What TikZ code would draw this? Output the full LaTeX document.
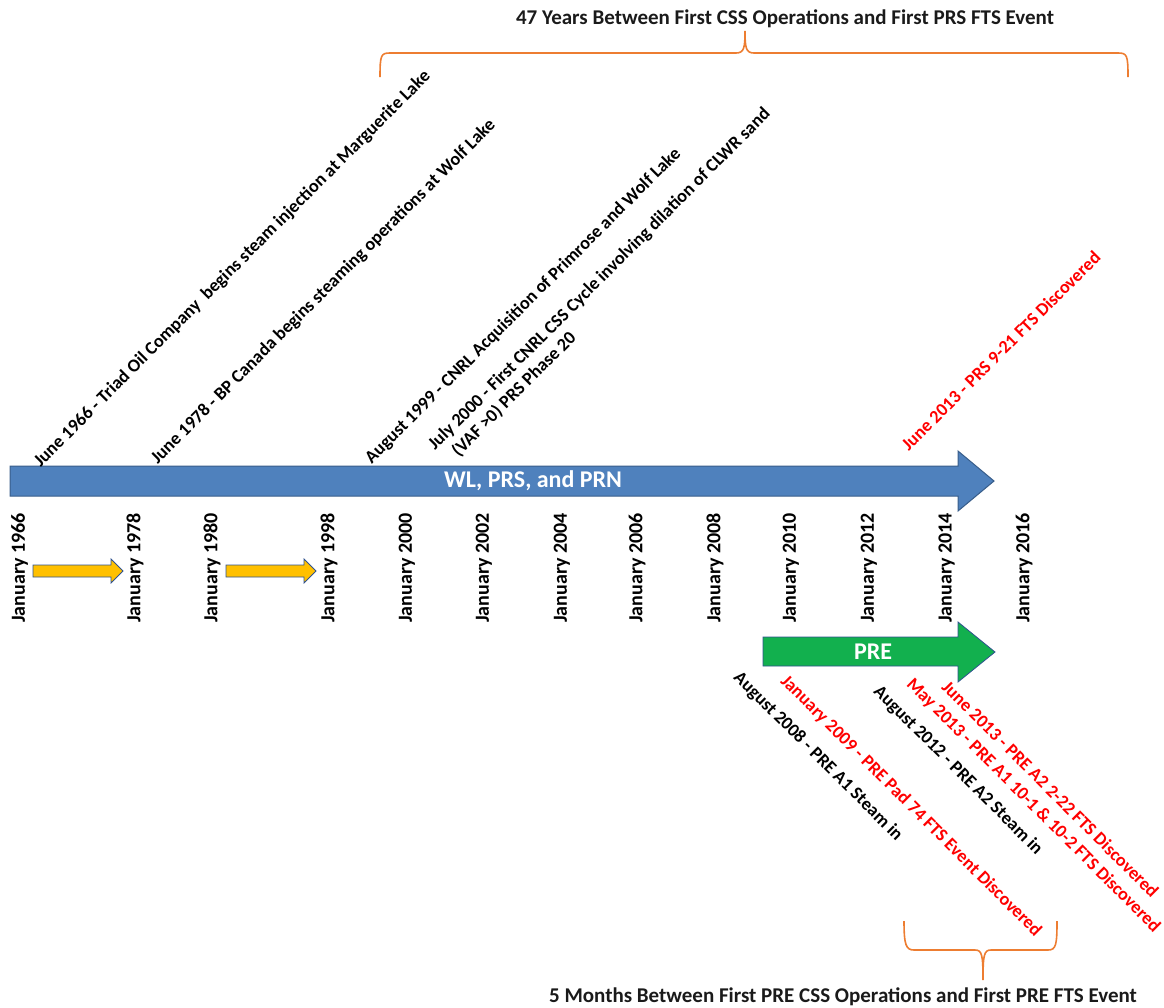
\documentclass[tikz,border=0pt]{standalone}
\usepackage{fontspec}
\setmainfont{Carlito}
\begin{document}
\begin{tikzpicture}[x=1pt,y=-1pt,
  yearlbl/.style={font=\bfseries\fontsize{20}{20}\selectfont, rotate=90, anchor=east, inner sep=0pt},
  uplbl/.style={font=\bfseries\fontsize{18.2}{21}\selectfont, rotate=45, anchor=south west, inner sep=0pt, align=left},
  dnlbl/.style={font=\bfseries\fontsize{18.2}{21}\selectfont, rotate=-45, anchor=north west, inner sep=0pt},
  titlelbl/.style={font=\bfseries\fontsize{21}{24}\selectfont, inner sep=0pt, text=titlegray},
  bracecol/.style={draw=braceorange, line width=1.6pt},
  ]
\definecolor{arrowblue}{HTML}{4F81BD}
\definecolor{arrowblueline}{HTML}{385D8A}
\definecolor{arrowgreen}{HTML}{12B04E}
\definecolor{arrowyellow}{HTML}{FFC000}
\definecolor{yellowline}{HTML}{2F528F}
\definecolor{braceorange}{HTML}{ED7D31}
\definecolor{evtred}{HTML}{FF0000}
\definecolor{titlegray}{HTML}{1A1A1A}
\useasboundingbox (0,0) rectangle (1164,1007);

% top title and brace
\node[titlelbl] (toptitle) at (785,19) {47 Years Between First CSS Operations and First PRS FTS Event};
\draw[bracecol] (380,77) .. controls (380,55) and (381,53) .. (390,53) -- (736,53) .. controls (744,53) and (745,48) .. (745,31)
  .. controls (745,48) and (746,53) .. (754,53) -- (1118,53) .. controls (1127,53) and (1128,55) .. (1128,77);

% blue arrow
\draw[fill=arrowblue, draw=arrowblueline, line width=1pt] (10,466) -- (958,466) -- (958,451) -- (994,481) -- (958,511) -- (958,496) -- (10,496) -- cycle;
\node[font=\bfseries\fontsize{24}{24}\selectfont, text=white] (wl) at (533,481) {WL, PRS, and PRN};

% green arrow
\draw[fill=arrowgreen, draw=yellowline, line width=0.8pt] (763,637) -- (958,637) -- (958,622) -- (995,652) -- (958,682) -- (958,666) -- (763,666) -- cycle;
\node[font=\bfseries\fontsize{24}{24}\selectfont, text=white] (pre) at (873,652) {PRE};

% yellow arrows
\draw[fill=arrowyellow, draw=yellowline, line width=0.8pt] (33,565) -- (111,565) -- (111,559) -- (123,571) -- (111,583) -- (111,577) -- (33,577) -- cycle;
\draw[fill=arrowyellow, draw=yellowline, line width=0.8pt] (226,565) -- (304,565) -- (304,559) -- (316,571) -- (304,583) -- (304,577) -- (226,577) -- cycle;

% year labels
\node[yearlbl] (y1966) at (19.5,513) {January 1966};
\node[yearlbl] (y1978) at (135,513) {January 1978};
\node[yearlbl] (y1980) at (212,513) {January 1980};
\node[yearlbl] (y1998) at (329,513) {January 1998};
\node[yearlbl] (y2000) at (407,513) {January 2000};
\node[yearlbl] (y2002) at (484,513) {January 2002};
\node[yearlbl] (y2004) at (562,513) {January 2004};
\node[yearlbl] (y2006) at (637,513) {January 2006};
\node[yearlbl] (y2008) at (715,513) {January 2008};
\node[yearlbl] (y2010) at (791,513) {January 2010};
\node[yearlbl] (y2012) at (869,513) {January 2012};
\node[yearlbl] (y2014) at (946.6,513) {January 2014};
\node[yearlbl] (y2016) at (1024,513) {January 2016};

% upper events
\node[uplbl] (e1966) at (43,470) {June 1966 - Triad Oil Company\ \ begins steam injection at Marguerite Lake};
\node[uplbl] (e1978) at (160,467) {June 1978 - BP Canada begins steaming operations at Wolf Lake};
\node[uplbl] (e1999) at (374,467) {August 1999 - CNRL Acquisition of Primrose and Wolf Lake};
\node[uplbl] (e2000) at (452,468) {July 2000 - First CNRL CSS Cycle involving dilation of CLWR sand\\\ \ \ (VAF >0) PRS Phase 20};
\node[uplbl, text=evtred] (e2013) at (909,452) {June 2013 - PRS 9-21 FTS Discovered};

% lower events
\node[dnlbl] (p2008) at (742,669) {August 2008 - PRE A1 Steam in};
\node[dnlbl, text=evtred] (p2009) at (789,673) {January 2009 - PRE Pad 74 FTS Event Discovered};
\node[dnlbl] (p2012) at (882,683) {August 2012 - PRE A2 Steam in};
\node[dnlbl, text=evtred] (p2013a) at (915,676) {May 2013 - PRE A1 10-1 \& 10-2 FTS Discovered};
\node[dnlbl, text=evtred] (p2013b) at (950,679) {June 2013 - PRE A2 2-22 FTS Discovered};

% bottom brace and title
\draw[bracecol] (904,921) .. controls (904,945) and (906,950) .. (914,950) -- (975,950) .. controls (982,950) and (983,955) .. (983,980)
  .. controls (983,955) and (984,950) .. (991,950) -- (1048,950) .. controls (1056,950) and (1057,945) .. (1057,921);
\node[titlelbl] (bottitle) at (843,997) {5 Months Between First PRE CSS Operations and First PRE FTS Event};
\end{tikzpicture}
\end{document}
